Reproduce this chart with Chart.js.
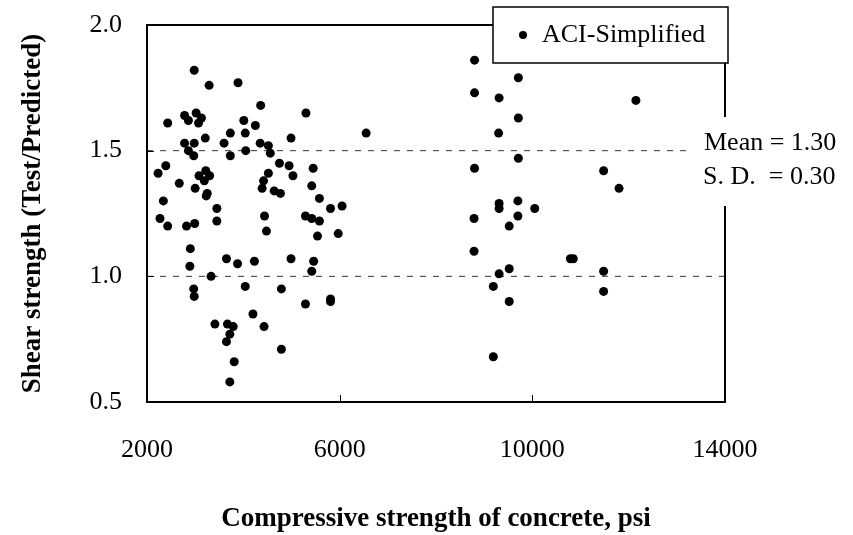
<!DOCTYPE html>
<html>
<head>
<meta charset="utf-8">
<script src="https://cdn.jsdelivr.net/npm/chart.js@4/dist/chart.umd.min.js"></script>
<style>
  body { margin: 0; background: #fff; }
  #wrap { width: 853px; height: 535px; }
</style>
</head>
<body>
<div id="wrap"><canvas id="myChart" width="853" height="535"></canvas></div>
<script>
// compressive strength (psi) and test/predicted ratio
const psiValues = [
    2980, 3290, 3890, 4360, 5300, 6550, 2430, 2780, 2860, 3020,
    3130, 3070, 4010, 4250, 3730, 4040, 3600, 3210, 2780, 2980,
    2860, 2970, 3730, 4050, 4350, 4520, 4560, 4990, 4750, 4950,
    5030, 5450, 4520, 2390, 2230, 2670, 3080, 3220, 3300, 3190,
    3000, 3250, 3230, 4420, 4390, 4640, 4770, 5420, 5580, 2340,
    2270, 2430, 2820, 2990, 3450, 3450, 4440, 4480, 5290, 5420,
    5580, 5810, 6050, 5540, 5970, 2900, 2890, 3330, 3650, 3880,
    4230, 4990, 5460, 5420, 2970, 2980, 4040, 4790, 5290, 5810,
    5810, 4200, 3410, 3670, 3790, 3720, 3650, 4430, 4790, 3810,
    3720,
    8800, 9710, 8800, 9310, 12150, 9710, 9300, 9710, 8800, 11480,
    11800, 9310, 9310, 9700, 9700, 10050, 8790, 9520, 8790, 10790,
    10850, 9310, 9520, 11480, 9190, 11480, 9520, 9190
];
const ratioValues = [
    1.82, 1.76, 1.77, 1.68, 1.65, 1.57, 1.61, 1.64, 1.62, 1.65,
    1.63, 1.61, 1.62, 1.60, 1.57, 1.57, 1.53, 1.55, 1.53, 1.53,
    1.50, 1.48, 1.48, 1.50, 1.53, 1.52, 1.49, 1.55, 1.45, 1.44,
    1.40, 1.43, 1.41, 1.44, 1.41, 1.37, 1.40, 1.42, 1.40, 1.38,
    1.35, 1.33, 1.32, 1.38, 1.35, 1.34, 1.33, 1.36, 1.31, 1.30,
    1.23, 1.20, 1.20, 1.21, 1.27, 1.22, 1.24, 1.18, 1.24, 1.23,
    1.22, 1.27, 1.28, 1.16, 1.17, 1.11, 1.04, 1.00, 1.07, 1.05,
    1.06, 1.07, 1.06, 1.02, 0.95, 0.92, 0.96, 0.95, 0.89, 0.91,
    0.90, 0.85, 0.81, 0.81, 0.80, 0.77, 0.74, 0.80, 0.71, 0.66,
    0.58,
    1.86, 1.79, 1.73, 1.71, 1.70, 1.63, 1.57, 1.47, 1.43, 1.42,
    1.35, 1.29, 1.27, 1.30, 1.24, 1.27, 1.23, 1.20, 1.10, 1.07,
    1.07, 1.01, 1.03, 1.02, 0.96, 0.94, 0.90, 0.68
];
const seriesName = 'ACI-Simplified';
const refLevels = [1.5, 1.0];          // dashed lines
const xTicks = [2000, 6000, 10000, 14000];
const yTicks = [0.5, 1.0, 1.5, 2.0];
const statLines = ['Mean = 1.30', 'S. D.  = 0.30'];

const serif = '"Liberation Serif", "Times New Roman", serif';

function buildPoints() {
    let pts = [];
    for (let i = 0; i < psiValues.length; i++) {
        pts.push({ x: psiValues[i], y: ratioValues[i] });
    }
    return pts;
}

function buildRefLine(level) {
    return {
        label: 'ref' + level,
        data: [{ x: xTicks[0], y: level }, { x: xTicks[xTicks.length - 1], y: level }],
        showLine: true,
        borderColor: '#333',
        borderWidth: 1,
        borderDash: [6, 7],
        pointRadius: 0,
        order: 2
    };
}

// frame, inner tick marks, legend box and the mean / s.d. note
const framePlugin = {
    id: 'frame',
    afterDatasetsDraw(chart) {
        const ctx = chart.ctx;
        const a = chart.chartArea;
        const xs = chart.scales.x;
        const ys = chart.scales.y;
        ctx.save();
        ctx.strokeStyle = '#000';
        ctx.lineWidth = 2;
        ctx.strokeRect(a.left, a.top, a.right - a.left, a.bottom - a.top);
        ctx.lineWidth = 1;
        for (let v of xTicks) {
            let px = Math.round(xs.getPixelForValue(v)) + 0.5;
            ctx.beginPath();
            ctx.moveTo(px, a.bottom);
            ctx.lineTo(px, a.bottom - 7);
            ctx.stroke();
        }
        for (let v of yTicks) {
            let py = Math.round(ys.getPixelForValue(v)) + 0.5;
            ctx.beginPath();
            ctx.moveTo(a.left, py);
            ctx.lineTo(a.left + 7, py);
            ctx.stroke();
        }
        ctx.restore();
    },
    afterDraw(chart) {
        const ctx = chart.ctx;
        ctx.save();

        // legend
        let lx = 493, ly = 7, lw = 235, lh = 56;
        ctx.fillStyle = '#fff';
        ctx.fillRect(lx, ly, lw, lh);
        ctx.strokeStyle = '#000';
        ctx.lineWidth = 1.5;
        ctx.strokeRect(lx, ly, lw, lh);
        ctx.fillStyle = '#000';
        ctx.beginPath();
        ctx.arc(lx + 30, ly + 28, 4, 0, Math.PI * 2);
        ctx.fill();
        ctx.font = '26px ' + serif;
        ctx.textBaseline = 'middle';
        ctx.textAlign = 'left';
        ctx.fillText(chart.data.datasets[0].label, lx + 49, ly + 28);

        // mean / sd note covers the right border
        ctx.fillStyle = '#fff';
        ctx.fillRect(686, 117, 853 - 686, 89);
        ctx.fillStyle = '#000';
        ctx.fillText(statLines[0], 704, 143);
        ctx.fillText(statLines[1], 703, 177);
        ctx.restore();
    }
};

const ctx = document.getElementById('myChart').getContext('2d');

new Chart(ctx, {
    type: 'scatter',
    data: {
        datasets: [
            {
                label: seriesName,
                data: buildPoints(),
                backgroundColor: '#000',
                borderWidth: 0,
                pointRadius: 4.5,
                order: 1
            },
            buildRefLine(refLevels[0]),
            buildRefLine(refLevels[1])
        ]
    },
    options: {
        responsive: false,
        animation: false,
        devicePixelRatio: 1,
        layout: { padding: { top: 25, right: 128, left: 0, bottom: 0 } },
        plugins: {
            legend: { display: false },
            tooltip: { enabled: false }
        },
        scales: {
            x: {
                type: 'linear',
                min: 2000,
                max: 14000,
                afterBuildTicks(scale) {
                    scale.ticks = xTicks.map(v => ({ value: v }));
                },
                afterFit(scale) { scale.height = 133; },
                grid: { display: false, drawTicks: false },
                border: { display: false },
                ticks: {
                    padding: 33,
                    color: '#000',
                    font: { family: serif, size: 26 },
                    callback: v => String(v)
                },
                title: {
                    display: true,
                    text: 'Compressive strength of concrete, psi',
                    color: '#000',
                    font: { family: serif, size: 27, weight: 'bold' },
                    padding: { top: 0, bottom: 0 }
                }
            },
            y: {
                type: 'linear',
                min: 0.5,
                max: 2.0,
                afterBuildTicks(scale) {
                    scale.ticks = yTicks.map(v => ({ value: v }));
                },
                afterFit(scale) {
                    scale.width = 147;
                    scale.paddingTop = 0;
                    scale.paddingBottom = 0;
                },
                grid: { display: false, drawTicks: false },
                border: { display: false },
                ticks: {
                    padding: 25,
                    color: '#000',
                    font: { family: serif, size: 26 },
                    callback: v => Number(v).toFixed(1)
                },
                title: {
                    display: true,
                    text: 'Shear strength (Test/Predicted)',
                    color: '#000',
                    font: { family: serif, size: 27, weight: 'bold' },
                    padding: { top: 17, bottom: 0 }
                }
            }
        }
    },
    plugins: [framePlugin]
});
</script>
</body>
</html>
